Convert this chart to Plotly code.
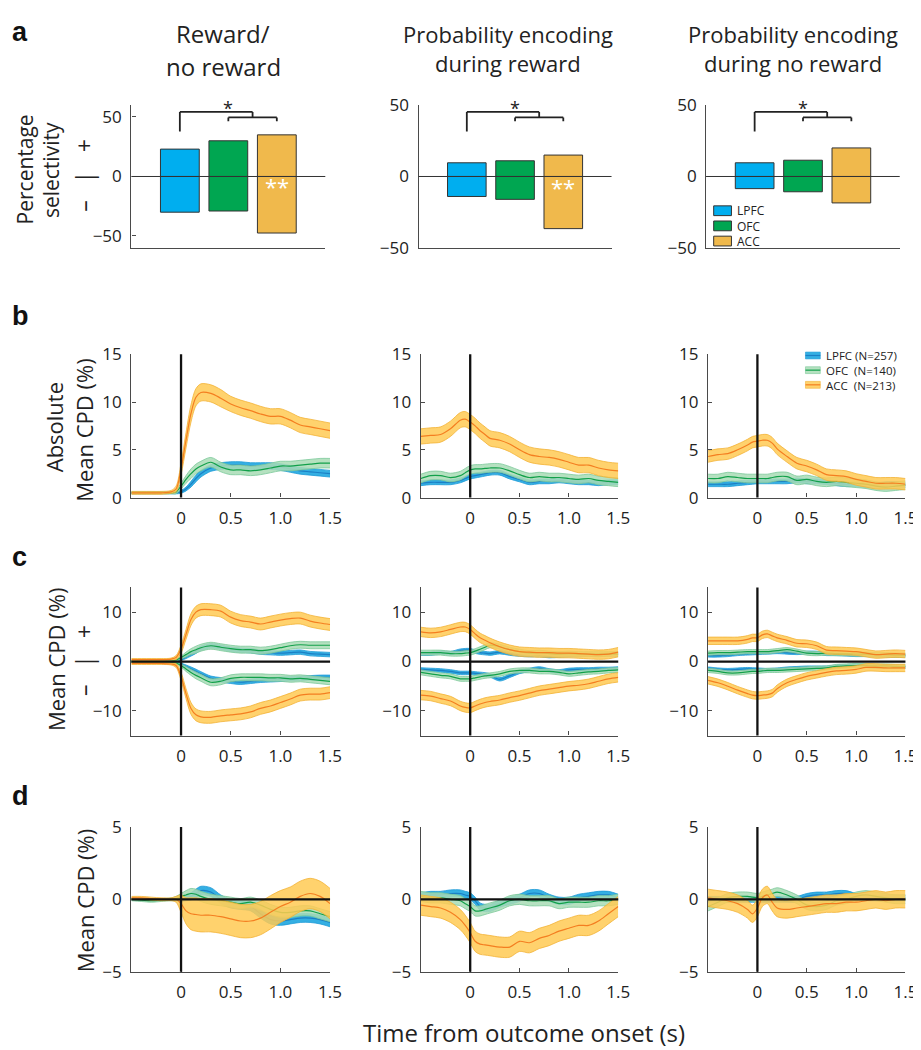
import plotly.graph_objects as go

W, H = 921, 1050

regions = ["LPFC", "OFC", "ACC"]
legend_b = ["LPFC (N=257)", "OFC&nbsp;&nbsp;(N=140)", "ACC&nbsp;&nbsp;(N=213)"]
col_titles = [["Reward/", "no reward"],
              ["Probability encoding", "during reward"],
              ["Probability encoding", "during no reward"]]

# ---- panel a: percentage selectivity (positive / negative parts) ----
a_pos = [[23, 30, 35], [9.6, 11, 15], [9.6, 11.4, 20]]
a_neg = [[-30, -29, -47.5], [-14, -16, -36.5], [-8.5, -10.7, -18.5]]
a_xpos = [1, 2, 3]

# ---- time axis ----
t = [-0.5, -0.4, -0.3, -0.2, -0.1, -0.05, 0, 0.05, 0.1, 0.15, 0.2, 0.3, 0.4,
     0.5, 0.6, 0.7, 0.8, 0.9, 1.0, 1.1, 1.2, 1.3, 1.4, 1.5]
x_ticks = [0, 0.5, 1.0, 1.5]
x_ticklabels = ["0", "0.5", "1.0", "1.5"]

# ---- panel b: absolute mean CPD ----
b1_lpfc = [0.5, 0.5, 0.5, 0.5, 0.5, 0.5, 0.6, 0.9, 1.4, 2.0, 2.5, 3.1, 3.3, 3.4, 3.4, 3.3, 3.3, 3.3, 3.2, 3.0, 2.8, 2.7, 2.6, 2.5]
b1_ofc = [0.5, 0.5, 0.5, 0.5, 0.5, 0.6, 1.2, 1.9, 2.5, 3.0, 3.3, 3.7, 3.2, 2.9, 2.9, 2.8, 2.9, 3.1, 3.3, 3.3, 3.4, 3.5, 3.6, 3.6]
b1_acc = [0.5, 0.5, 0.5, 0.5, 0.6, 0.9, 3.0, 6.0, 8.8, 10.5, 11.0, 10.9, 10.4, 9.8, 9.4, 9.1, 8.75, 8.5, 8.5, 8.1, 7.6, 7.4, 7.2, 7.0]
b1_lpfc_sem = [0.1, 0.1, 0.1, 0.1, 0.1, 0.1, 0.15, 0.2, 0.3, 0.35, 0.35, 0.35, 0.35, 0.35, 0.35, 0.35, 0.35, 0.35, 0.35, 0.35, 0.35, 0.35, 0.35, 0.35]
b1_ofc_sem = [0.1, 0.1, 0.1, 0.1, 0.1, 0.2, 0.3, 0.4, 0.5, 0.5, 0.5, 0.5, 0.5, 0.5, 0.5, 0.5, 0.5, 0.5, 0.5, 0.5, 0.5, 0.5, 0.5, 0.5]
b1_acc_sem = [0.15, 0.15, 0.15, 0.15, 0.15, 0.3, 0.6, 0.8, 0.9, 0.9, 0.9, 0.9, 0.9, 0.8, 0.8, 0.8, 0.8, 0.8, 0.8, 0.8, 0.8, 0.8, 0.8, 0.8]

b2_lpfc = [1.5, 1.6, 1.6, 1.6, 1.8, 2.0, 2.2, 2.3, 2.4, 2.5, 2.6, 2.6, 2.2, 1.9, 1.6, 1.7, 1.7, 1.8, 1.7, 1.6, 1.6, 1.5, 1.6, 1.6]
b2_ofc = [2.0, 2.3, 2.3, 2.1, 2.3, 2.6, 2.9, 3.0, 3.0, 3.05, 3.1, 3.1, 2.8, 2.4, 2.1, 2.2, 2.1, 2.1, 2.0, 1.9, 2.0, 1.8, 1.7, 1.6]
b2_acc = [6.4, 6.5, 6.6, 7.2, 8.1, 8.2, 7.9, 7.5, 7.0, 6.6, 6.2, 6.0, 5.6, 5.0, 4.5, 4.3, 4.2, 4.0, 3.7, 3.4, 3.4, 3.1, 2.9, 2.8]
b2_lpfc_sem, b2_ofc_sem, b2_acc_sem = 0.25, 0.45, 0.8

b3_lpfc = [1.4, 1.4, 1.4, 1.5, 1.6, 1.65, 1.7, 1.7, 1.7, 1.7, 1.7, 1.7, 1.8, 1.7, 1.7, 1.6, 1.5, 1.4, 1.4, 1.3, 1.3, 1.4, 1.4, 1.3]
b3_ofc = [2.0, 2.0, 2.2, 2.1, 2.0, 2.0, 2.0, 2.0, 2.0, 2.1, 2.2, 2.2, 1.8, 1.9, 1.7, 1.6, 1.7, 1.6, 1.5, 1.4, 1.2, 1.1, 1.2, 1.3]
b3_acc = [4.3, 4.5, 4.6, 5.0, 5.5, 5.8, 5.9, 6.0, 6.0, 5.7, 5.1, 4.3, 3.6, 3.3, 2.9, 2.4, 2.3, 2.2, 1.9, 1.7, 1.5, 1.5, 1.5, 1.4]
b3_lpfc_sem, b3_ofc_sem, b3_acc_sem = 0.25, 0.45, 0.6

# ---- panel c: signed mean CPD (positive and negative populations) ----
c1_lpfc_pos = [0.1, 0.1, 0.1, 0.1, 0.1, 0.2, 0.4, 0.9, 1.5, 2.1, 2.7, 3.2, 2.9, 2.5, 2.3, 2.2, 1.9, 1.8, 1.7, 1.8, 1.9, 1.6, 1.5, 1.4]
c1_lpfc_neg = [-0.1, -0.1, -0.1, -0.1, -0.1, -0.2, -0.5, -1.0, -1.5, -2.0, -2.5, -3.4, -3.7, -4.0, -4.2, -4.0, -3.8, -3.7, -3.6, -3.5, -3.4, -3.3, -3.2, -3.2]
c1_ofc_pos = [0.1, 0.1, 0.1, 0.1, 0.1, 0.3, 0.8, 1.4, 2.0, 2.4, 2.8, 3.2, 2.9, 2.6, 2.4, 2.4, 2.2, 2.4, 2.8, 3.2, 3.4, 3.3, 3.3, 3.3]
c1_ofc_neg = [-0.1, -0.1, -0.1, -0.1, -0.1, -0.3, -0.8, -1.5, -2.2, -2.8, -3.3, -4.2, -4.0, -3.4, -3.2, -3.2, -3.2, -3.3, -3.3, -3.5, -3.4, -3.6, -3.8, -4.0]
c1_acc_pos = [0.4, 0.4, 0.4, 0.4, 0.5, 0.8, 2.5, 5.5, 8.5, 10.0, 10.5, 10.5, 10.2, 9.0, 8.3, 8.0, 7.6, 8.0, 8.4, 8.7, 8.8, 8.2, 7.8, 7.5]
c1_acc_neg = [-0.4, -0.4, -0.4, -0.4, -0.5, -0.8, -3.0, -6.5, -9.5, -10.8, -11.2, -11.3, -11.0, -10.8, -10.6, -10.2, -9.5, -9.0, -8.3, -7.6, -6.8, -6.6, -6.6, -6.3]
c1_lpfc_sem = [0.1, 0.1, 0.1, 0.1, 0.1, 0.15, 0.2, 0.3, 0.4, 0.45, 0.45, 0.45, 0.45, 0.45, 0.45, 0.45, 0.45, 0.45, 0.45, 0.45, 0.45, 0.45, 0.45, 0.45]
c1_ofc_sem = [0.1, 0.1, 0.1, 0.1, 0.1, 0.2, 0.3, 0.5, 0.6, 0.7, 0.7, 0.7, 0.7, 0.7, 0.7, 0.7, 0.7, 0.7, 0.7, 0.7, 0.7, 0.7, 0.7, 0.7]
c1_acc_sem = [0.2, 0.2, 0.2, 0.2, 0.2, 0.4, 0.8, 1.0, 1.2, 1.2, 1.2, 1.2, 1.2, 1.2, 1.2, 1.2, 1.2, 1.2, 1.2, 1.2, 1.2, 1.2, 1.2, 1.2]

c2_lpfc_pos = [1.6, 1.6, 1.8, 1.7, 2.2, 2.3, 2.3, 2.0, 1.8, 1.7, 1.6, 1.9, 1.6, 1.4, 1.3, 1.3, 1.1, 1.2, 1.3, 1.3, 1.4, 1.3, 1.5, 1.5]
c2_lpfc_neg = [-1.6, -1.7, -1.8, -2.0, -2.3, -2.3, -2.3, -2.4, -2.5, -2.6, -2.8, -3.6, -2.9, -2.1, -1.7, -1.4, -1.8, -2.0, -1.7, -1.6, -1.6, -1.5, -1.5, -1.4]
c2_ofc_pos = [1.8, 1.8, 1.8, 1.6, 1.6, 1.7, 1.8, 2.1, 2.5, 2.9, 3.3, 3.0, 2.4, 2.0, 1.7, 1.8, 1.6, 1.5, 1.6, 1.5, 1.5, 1.5, 1.5, 1.5]
c2_ofc_neg = [-2.2, -2.5, -2.8, -3.0, -3.5, -3.5, -3.5, -3.3, -3.1, -2.9, -2.8, -2.5, -2.0, -1.8, -1.8, -2.0, -2.0, -2.2, -2.5, -2.3, -2.1, -2.0, -1.8, -1.7]
c2_acc_pos = [6.0, 5.8, 6.0, 6.5, 7.0, 7.0, 6.5, 5.6, 4.8, 4.3, 3.8, 3.0, 2.4, 2.0, 1.9, 1.8, 1.8, 1.7, 1.7, 1.6, 1.5, 1.4, 1.5, 1.9]
c2_acc_neg = [-6.8, -7.0, -7.5, -8.0, -9.0, -9.3, -9.4, -9.0, -8.6, -8.3, -8.1, -7.8, -7.3, -6.9, -6.4, -5.9, -5.6, -5.3, -5.0, -4.8, -4.5, -4.0, -3.5, -3.2]
c2_lpfc_sem, c2_ofc_sem, c2_acc_sem = 0.35, 0.5, 0.95

c3_lpfc_pos = [1.2, 1.2, 1.3, 1.5, 1.6, 1.65, 1.7, 1.75, 1.8, 1.85, 1.9, 1.8, 1.7, 1.8, 1.8, 1.5, 1.5, 1.4, 1.3, 1.3, 1.2, 1.2, 1.2, 1.2]
c3_lpfc_neg = [-1.4, -1.6, -1.7, -1.6, -1.5, -1.55, -1.6, -1.65, -1.7, -1.65, -1.6, -1.4, -1.3, -1.2, -1.2, -1.2, -1.0, -0.9, -0.8, -0.9, -1.0, -1.0, -1.1, -1.1]
c3_ofc_pos = [1.7, 1.8, 1.8, 1.9, 2.0, 2.0, 2.0, 2.0, 2.0, 2.1, 2.2, 2.4, 2.1, 1.7, 1.6, 1.7, 1.6, 1.6, 1.5, 1.5, 1.4, 1.4, 1.3, 1.3]
c3_ofc_neg = [-1.8, -2.0, -2.3, -2.3, -2.1, -2.0, -2.0, -1.9, -1.8, -1.8, -1.8, -1.7, -1.6, -1.5, -1.4, -1.3, -1.0, -0.9, -0.8, -0.8, -0.9, -0.9, -1.0, -1.0]
c3_acc_pos = [4.2, 4.2, 4.2, 4.2, 4.5, 4.8, 4.8, 5.4, 5.6, 5.2, 4.8, 4.3, 3.7, 3.6, 3.2, 2.3, 2.2, 2.1, 2.0, 1.7, 1.4, 1.5, 1.6, 1.5]
c3_acc_neg = [-3.8, -4.3, -5.0, -5.8, -6.5, -6.8, -6.9, -6.8, -6.7, -6.4, -5.5, -4.3, -3.6, -3.0, -2.6, -2.2, -1.9, -1.8, -1.6, -1.2, -1.2, -1.3, -1.3, -1.3]
c3_lpfc_sem, c3_ofc_sem, c3_acc_sem = 0.3, 0.42, 0.75

# ---- panel d: mean CPD ----
d1_lpfc = [0.0, 0.0, 0.0, 0.0, 0.0, 0.0, 0.0, 0.1, 0.2, 0.4, 0.6, 0.5, 0.0, -0.3, -0.4, -0.5, -1.0, -1.4, -1.5, -1.4, -1.3, -1.3, -1.4, -1.6]
d1_ofc = [0.0, -0.05, -0.1, -0.05, 0.0, 0.05, 0.2, 0.3, 0.4, 0.35, 0.2, 0.0, -0.1, -0.2, -0.3, -0.2, -0.4, -0.7, -0.9, -0.9, -0.8, -0.8, -1.0, -1.2]
d1_acc = [0.1, 0.1, 0.05, 0.0, 0.0, 0.0, -0.3, -0.8, -1.0, -1.05, -1.1, -1.1, -1.2, -1.35, -1.5, -1.5, -1.3, -0.9, -0.5, -0.2, 0.2, 0.4, 0.2, -0.3]
d1_lpfc_sem = [0.05, 0.05, 0.05, 0.05, 0.05, 0.1, 0.15, 0.2, 0.25, 0.3, 0.3, 0.3, 0.3, 0.3, 0.3, 0.3, 0.3, 0.3, 0.3, 0.3, 0.3, 0.3, 0.3, 0.3]
d1_ofc_sem = [0.1, 0.1, 0.1, 0.1, 0.1, 0.15, 0.2, 0.3, 0.35, 0.35, 0.35, 0.35, 0.35, 0.35, 0.35, 0.35, 0.35, 0.35, 0.35, 0.35, 0.35, 0.35, 0.35, 0.35]
d1_acc_sem = [0.1, 0.1, 0.1, 0.1, 0.1, 0.2, 0.6, 0.9, 1.1, 1.15, 1.15, 1.15, 1.15, 1.15, 1.15, 1.15, 1.15, 1.15, 1.1, 1.05, 1.05, 1.05, 1.05, 1.05]

d2_lpfc = [0.2, 0.3, 0.3, 0.4, 0.4, 0.3, 0.2, -0.1, -0.5, -0.6, -0.6, -0.3, -0.1, 0.1, 0.4, 0.4, 0.1, -0.1, -0.1, 0.1, 0.2, 0.3, 0.3, 0.1]
d2_ofc = [0.2, 0.1, 0.1, 0.0, -0.1, -0.3, -0.5, -0.8, -0.8, -0.7, -0.6, -0.4, -0.1, 0.0, -0.1, -0.1, -0.1, -0.3, -0.2, -0.2, -0.2, -0.1, -0.1, 0.0]
d2_acc = [-0.4, -0.5, -0.6, -0.9, -1.4, -1.8, -2.3, -2.9, -3.1, -3.15, -3.2, -3.3, -3.3, -2.9, -3.0, -2.7, -2.5, -2.2, -2.0, -1.8, -1.8, -1.5, -1.0, -0.5]
d2_lpfc_sem, d2_ofc_sem, d2_acc_sem = 0.25, 0.35, 0.7

d3_lpfc = [0.0, 0.0, 0.0, 0.0, 0.0, 0.0, 0.0, 0.0, 0.0, 0.0, 0.0, 0.0, 0.0, 0.2, 0.3, 0.3, 0.4, 0.4, 0.2, 0.1, 0.1, 0.1, 0.1, 0.1]
d3_ofc = [-0.5, -0.2, 0.1, 0.2, 0.2, 0.15, 0.1, 0.2, 0.3, 0.4, 0.5, 0.3, 0.0, -0.4, -0.5, -0.4, -0.1, 0.0, 0.2, 0.3, 0.2, 0.1, 0.0, 0.0]
d3_acc = [0.1, 0.0, -0.1, -0.3, -0.7, -1.0, -0.6, 0.1, 0.3, -0.2, -0.6, -0.7, -0.6, -0.5, -0.4, -0.3, -0.3, -0.2, -0.2, -0.1, 0.0, -0.1, 0.0, 0.0]
d3_lpfc_sem, d3_ofc_sem, d3_acc_sem = 0.2, 0.3, 0.6

# ---------------- styling ----------------
FONT = "Open Sans"
TICK_FS = 17
BAR_COL = {"LPFC": "#00AEEF", "OFC": "#00A651", "ACC": "#F0B94C"}
BAND = {"LPFC": dict(fill="rgba(41,171,226,0.95)", edge="#1E9BD7", line="#1C7FC4"),
        "OFC": dict(fill="rgba(168,220,181,0.85)", edge="#7CC99A", line="#12A04A"),
        "ACC": dict(fill="rgba(255,202,84,0.85)", edge="#F2B236", line="#F47E20")}
AXC = "#4a4a4a"

def px(x):
    return x / W

def py(y):
    return 1 - y / H

a_xdom = [[125, 321.5], [416, 611.5], [707.5, 903.5]]
ts_xdom = [[125, 326.3], [418.3, 618.3], [709.3, 909.3]]
row_ydom = [[87, 233], [341.7, 488.3], [580.2, 731.6], [825, 973]]

fig = go.Figure()

def sfx(i):
    return "" if i == 1 else str(i)

def idx(r, c):
    return r * 3 + c + 1

layout = {}
for r in range(4):
    for c in range(3):
        i = idx(r, c)
        xd = a_xdom[c] if r == 0 else ts_xdom[c]
        yd = row_ydom[r]
        xa = dict(domain=[px(xd[0]), px(xd[1])], anchor="y" + sfx(i), showline=True,
                  linecolor=AXC, linewidth=1.3, showgrid=False, zeroline=False,
                  ticks="inside", ticklen=4, tickcolor=AXC,
                  tickfont=dict(size=TICK_FS, color="#222", family=FONT), ticklabelstandoff=5)
        ya = dict(domain=[py(yd[1]), py(yd[0])], anchor="x" + sfx(i), showline=True,
                  linecolor=AXC, linewidth=1.3, showgrid=False, zeroline=False,
                  ticks="inside", ticklen=4, tickcolor=AXC,
                  tickfont=dict(size=TICK_FS, color="#222", family=FONT), ticklabelstandoff=5)
        if r == 0:
            xa.update(range=[0, 4], showticklabels=False, ticks="")
            ya.update(range=[-60, 60] if c == 0 else [-50, 50], tickvals=[-50, 0, 50],
                      ticktext=["\u221250", "0", "50"])
        else:
            xa.update(range=[-0.5, 1.5], tickvals=x_ticks, ticktext=x_ticklabels)
            if r == 1:
                ya.update(range=[0, 15], tickvals=[0, 5, 10, 15], ticktext=["0", "5", "10", "15"])
            elif r == 2:
                ya.update(range=[-15, 15], tickvals=[-10, 0, 10], ticktext=["\u221210", "0", "10"])
            else:
                ya.update(range=[-5, 5], tickvals=[-5, 0, 5], ticktext=["\u22125", "0", "5"])
        layout["xaxis" + sfx(i)] = xa
        layout["yaxis" + sfx(i)] = ya

shapes = []
annotations = []

# ---- panel a bars ----
for c in range(3):
    i = idx(0, c)
    for k, reg in enumerate(regions):
        for val in (a_pos[c][k], a_neg[c][k]):
            fig.add_trace(go.Bar(x=[a_xpos[k]], y=[val], base=0, width=0.8,
                                 marker=dict(color=BAR_COL[reg], line=dict(color="#333", width=1)),
                                 xaxis="x" + sfx(i), yaxis="y" + sfx(i), showlegend=False,
                                 hoverinfo="skip"))
    shapes.append(dict(type="line", xref="x" + sfx(i) + " domain", yref="y" + sfx(i),
                       x0=0, x1=1, y0=0, y1=0, line=dict(color="#333", width=1), layer="above"))
    br = dict(color="#222", width=1.8)
    xr, yr = "x" + sfx(i), "y" + sfx(i) + " domain"
    shapes += [
        dict(type="line", xref=xr, yref=yr, x0=1, x1=1, y0=0.815, y1=0.952, line=br),
        dict(type="line", xref=xr, yref=yr, x0=1, x1=2.5, y0=0.952, y1=0.952, line=br),
        dict(type="line", xref=xr, yref=yr, x0=2.5, x1=2.5, y0=0.952, y1=0.914, line=br),
        dict(type="line", xref=xr, yref=yr, x0=2, x1=3, y0=0.914, y1=0.914, line=br),
        dict(type="line", xref=xr, yref=yr, x0=2, x1=2, y0=0.914, y1=0.887, line=br),
        dict(type="line", xref=xr, yref=yr, x0=3, x1=3, y0=0.914, y1=0.887, line=br),
    ]
    annotations.append(dict(text="*", xref=xr, yref="paper", x=2, y=py(90), yanchor="middle",
                            showarrow=False, font=dict(size=18, color="#222", family=FONT)))
    if c < 2:
        annotations.append(dict(text="**", xref=xr, yref="y" + sfx(i), x=3,
                                y=-8 if c == 0 else -7.5, showarrow=False,
                                font=dict(size=22, color="white", family=FONT)))

# ---- time-series bands ----
def add_band(i, mean, sem, reg):
    s = sem if isinstance(sem, list) else [sem] * len(mean)
    lo = [m - e for m, e in zip(mean, s)]
    hi = [m + e for m, e in zip(mean, s)]
    st = BAND[reg]
    common = dict(x=t, mode="lines", xaxis="x" + sfx(i), yaxis="y" + sfx(i),
                  showlegend=False, hoverinfo="skip")
    fig.add_trace(go.Scatter(y=lo, line=dict(color=st["edge"], width=0.8, shape="spline", smoothing=0.9), **common))
    fig.add_trace(go.Scatter(y=hi, fill="tonexty", fillcolor=st["fill"],
                             line=dict(color=st["edge"], width=0.8, shape="spline", smoothing=0.9), **common))
    fig.add_trace(go.Scatter(y=mean, line=dict(color=st["line"], width=1.2, shape="spline", smoothing=0.9), **common))

b_data = [
    [(b1_lpfc, b1_lpfc_sem), (b1_ofc, b1_ofc_sem), (b1_acc, b1_acc_sem)],
    [(b2_lpfc, b2_lpfc_sem), (b2_ofc, b2_ofc_sem), (b2_acc, b2_acc_sem)],
    [(b3_lpfc, b3_lpfc_sem), (b3_ofc, b3_ofc_sem), (b3_acc, b3_acc_sem)],
]
c_data = [
    [(c1_lpfc_pos, c1_lpfc_neg, c1_lpfc_sem), (c1_ofc_pos, c1_ofc_neg, c1_ofc_sem), (c1_acc_pos, c1_acc_neg, c1_acc_sem)],
    [(c2_lpfc_pos, c2_lpfc_neg, c2_lpfc_sem), (c2_ofc_pos, c2_ofc_neg, c2_ofc_sem), (c2_acc_pos, c2_acc_neg, c2_acc_sem)],
    [(c3_lpfc_pos, c3_lpfc_neg, c3_lpfc_sem), (c3_ofc_pos, c3_ofc_neg, c3_ofc_sem), (c3_acc_pos, c3_acc_neg, c3_acc_sem)],
]
d_data = [
    [(d1_lpfc, d1_lpfc_sem), (d1_ofc, d1_ofc_sem), (d1_acc, d1_acc_sem)],
    [(d2_lpfc, d2_lpfc_sem), (d2_ofc, d2_ofc_sem), (d2_acc, d2_acc_sem)],
    [(d3_lpfc, d3_lpfc_sem), (d3_ofc, d3_ofc_sem), (d3_acc, d3_acc_sem)],
]

for c in range(3):
    for k, reg in enumerate(regions):
        m, s = b_data[c][k]
        add_band(idx(1, c), m, s, reg)
        mp, mn, s = c_data[c][k]
        add_band(idx(2, c), mp, s, reg)
        add_band(idx(2, c), mn, s, reg)
        m, s = d_data[c][k]
        add_band(idx(3, c), m, s, reg)

for r in (1, 2, 3):
    for c in range(3):
        i = idx(r, c)
        shapes.append(dict(type="line", xref="x" + sfx(i), yref="y" + sfx(i) + " domain",
                           x0=0, x1=0, y0=0, y1=1, line=dict(color="#111", width=2.3), layer="above"))
        if r >= 2:
            shapes.append(dict(type="line", xref="x" + sfx(i) + " domain", yref="y" + sfx(i),
                               x0=0, x1=1, y0=0, y1=0, line=dict(color="#111", width=2.2), layer="above"))

# ---- titles and labels ----
title_cx = [218, 507, 795]
title_fs = [24, 22, 22]
title_y = [[14, 48], [14, 44], [14, 44]]
for c in range(3):
    for ln in range(2):
        annotations.append(dict(text=col_titles[c][ln], xref="paper", yref="paper",
                                x=px(title_cx[c]), y=py(title_y[c][ln]), showarrow=False,
                                xanchor="center", yanchor="middle",
                                font=dict(size=title_fs[c], color="#222", family=FONT)))

for letter, yy in (("a", 12), ("b", 303), ("c", 549), ("d", 793)):
    annotations.append(dict(text="<b>" + letter + "</b>", xref="paper", yref="paper",
                            x=px(2), y=py(yy), xanchor="left", yanchor="middle", showarrow=False,
                            font=dict(size=27, color="#111", family="Liberation Sans")))

def vlabel(text, x, y, size=21):
    annotations.append(dict(text=text, xref="paper", yref="paper", x=px(x), y=py(y),
                            textangle=-90, showarrow=False, xanchor="center", yanchor="middle",
                            font=dict(size=size, color="#222", family=FONT)))

vlabel("Percentage", 17, 153)
vlabel("selectivity", 43, 153)
vlabel("Absolute", 47, 416, 22)
vlabel("Mean CPD (%)", 77, 419, 22)
vlabel("Mean CPD (%)", 48, 653, 22)
vlabel("Mean CPD (%)", 78, 900, 22)

# rotated "– | +" marker next to the signed axes
def sign_marks(x, ytop, ymid, ybot):
    for txt, yy in (("+", ytop), ("|", ymid), ("\u2013", ybot)):
        annotations.append(dict(text=txt, xref="paper", yref="paper", x=px(x), y=py(yy),
                                textangle=-90, showarrow=False, xanchor="center", yanchor="middle",
                                font=dict(size=23, color="#222", family=FONT)))

sign_marks(77, 128, 160, 190)
sign_marks(77, 625, 655, 685)

annotations.append(dict(text="Time from outcome onset (s)", xref="paper", yref="paper",
                        x=px(523), y=py(1035), showarrow=False, yanchor="middle",
                        font=dict(size=24, color="#222", family=FONT)))

# ---- legend panel a ----
for k, reg in enumerate(regions):
    yc = [195, 210.5, 226][k]
    shapes.append(dict(type="rect", xref="paper", yref="paper", x0=px(715), x1=px(733),
                       y0=py(yc + 5), y1=py(yc - 5), fillcolor=BAR_COL[reg],
                       line=dict(color="#333", width=1)))
annotations.append(dict(text="<br>".join(regions), xref="paper", yref="paper", x=px(737), y=py(210.5),
                        xanchor="left", yanchor="middle", align="left", showarrow=False,
                        font=dict(size=12, color="#222", family=FONT)))

# ---- legend panel b ----
for k, reg in enumerate(regions):
    yc = [343, 358, 373][k]
    st = BAND[reg]
    shapes.append(dict(type="rect", xref="paper", yref="paper", x0=px(808), x1=px(823),
                       y0=py(yc + 3.5), y1=py(yc - 3.5), fillcolor=st["fill"],
                       line=dict(color=st["edge"], width=0.6)))
    shapes.append(dict(type="line", xref="paper", yref="paper", x0=px(808), x1=px(823),
                       y0=py(yc), y1=py(yc), line=dict(color=st["line"], width=1.2)))
annotations.append(dict(text="<br>".join(legend_b), xref="paper", yref="paper",
                        x=px(827), y=py(358), xanchor="left", yanchor="middle", align="left",
                        showarrow=False, font=dict(size=11.5, color="#222", family=FONT)))

fig.update_layout(width=W, height=H, margin=dict(l=0, r=0, t=0, b=0),
                  paper_bgcolor="white", plot_bgcolor="white", barmode="overlay",
                  showlegend=False, shapes=shapes, annotations=annotations,
                  font=dict(family=FONT, color="#222"), **layout)

fig.write_html("out.html")
